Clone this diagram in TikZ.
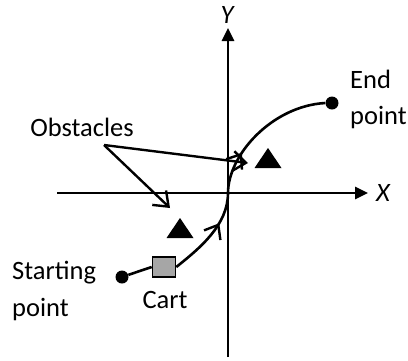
\documentclass[tikz,border=0pt]{standalone}
\usepackage{fontspec}
\setmainfont{Carlito}
\usetikzlibrary{arrows.meta,decorations.markings}
\begin{document}
\begin{tikzpicture}[x=1pt,y=-1pt,
  axis/.style={line width=2.6pt,-{Triangle[length=13pt,width=12pt]}},
  path/.style={line width=2.6pt},
  pointer/.style={line width=2.4pt,-{Straight Barb[length=13pt,width=20pt,line width=2.4pt]}},
  midarrow/.style={postaction={decorate},decoration={markings,
     mark=at position #1 with {\arrow{Straight Barb[length=12pt,width=19pt,line width=2.4pt]}}}},
  lbl/.style={font=\fontsize{26.5}{36}\selectfont,inner sep=0pt},
  dot/.style={circle,fill=black,inner sep=0pt,minimum size=13pt},
  cartbox/.style={draw=black,line width=1.6pt,fill=black!35,minimum width=23pt,minimum height=20pt,inner sep=0pt}
]
\useasboundingbox (0,0) rectangle (408,360);
% axes
\coordinate (yb) at (228,357);
\coordinate (yt) at (228,28);
\coordinate (xl) at (57,193);
\coordinate (xr) at (368,193);
\coordinate (o) at (228,193);
\draw[axis] (yb) -- (yt);
\draw[axis] (xl) -- (xr);
\node[lbl,font=\fontsize{26.5}{36}\selectfont\itshape] (ylab) at (227,15) {Y};
\node[lbl,font=\fontsize{26.5}{36}\selectfont\itshape] (xlab) at (383,193) {X};
% points
\node[dot] (start) at (122,277) {};
\node[dot] (end) at (332,103) {};
\node[cartbox] (cart) at (164,267) {};
% path
\draw[path] (start) -- (cart.west);
\draw[path,midarrow=0.66] (cart.east) .. controls (200,248) and (228,225) .. (o);
\draw[path,midarrow=0.3] (o) .. controls (228,155) and (272,106) .. (end.west);
% obstacles
\coordinate (tri1) at (268,158);
\coordinate (tri2) at (180,228);
\fill (tri1) ++(-13.5,10) -- ++(27,0) -- ++(-13.5,-20) -- cycle;
\fill (tri2) ++(-13.5,10) -- ++(27,0) -- ++(-13.5,-20) -- cycle;
% labels
\node[lbl,anchor=base] (obs) at (82,136) {Obstacles};
\coordinate (obsp) at (104,145);
\coordinate (t1) at (248,163);
\coordinate (t2) at (170,208);
\draw[pointer] (obsp) -- (t1);
\draw[pointer] (obsp) -- (t2);
\node[lbl,anchor=base west] (endlab1) at (350,88) {End};
\node[lbl,anchor=base west] (endlab2) at (350,124) {point};
\node[lbl,anchor=base west] (startlab1) at (12,279) {Starting};
\node[lbl,anchor=base west] (startlab2) at (12,316) {point};
\node[lbl,anchor=base] (cartlab) at (165,308) {Cart};
\end{tikzpicture}
\end{document}
